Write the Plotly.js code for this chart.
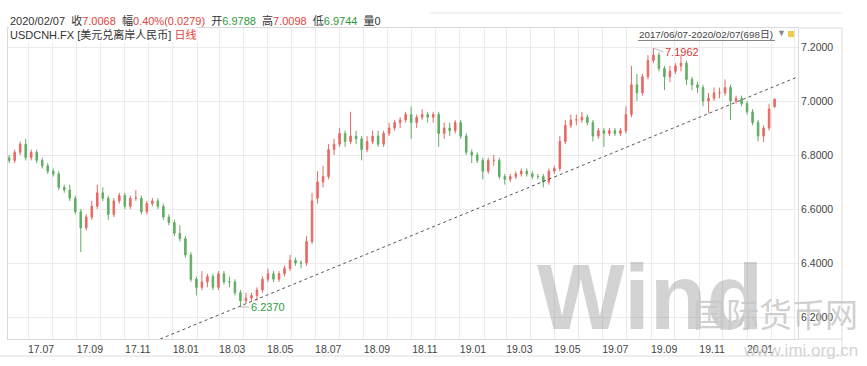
<!DOCTYPE html>
<html>
<head>
<meta charset="utf-8">
<script src="https://cdn.plot.ly/plotly-3.0.1.min.js"></script>
<style>html,body{margin:0;padding:0;background:#fff;}#chart{width:867px;height:366px;}</style>
</head>
<body>
<div id="chart"></div>
<script>
// Weekly OHLC (2017/06/07 - 2020/02/07)
const firstWeek = '2017-06-07';
const open = [
6.79,6.78,6.81,6.84,6.79,6.81,6.78,6.76,6.74,6.73,
6.68,6.67,6.64,6.59,6.53,6.57,6.61,6.66,6.64,6.58,
6.63,6.65,6.61,6.64,6.64,6.59,6.62,6.63,6.61,6.57,
6.55,6.51,6.49,6.43,6.34,6.31,6.33,6.35,6.31,6.36,
6.33,6.33,6.29,6.26,6.27,6.28,6.30,6.34,6.36,6.34,
6.36,6.38,6.41,6.40,6.40,6.48,6.64,6.70,6.72,6.82,
6.84,6.88,6.85,6.87,6.86,6.82,6.85,6.87,6.84,6.88,
6.90,6.92,6.93,6.95,6.92,6.94,6.95,6.94,6.95,6.88,
6.90,6.89,6.92,6.87,6.81,6.80,6.78,6.74,6.78,6.78,
6.72,6.71,6.72,6.73,6.74,6.73,6.72,6.72,6.70,6.74,
6.75,6.85,6.91,6.93,6.93,6.94,6.92,6.87,6.89,6.88,
6.89,6.88,6.89,6.95,7.06,7.03,7.09,7.15,7.17,7.12,
7.09,7.11,7.13,7.14,7.08,7.06,7.05,7.00,7.01,7.03,
7.03,7.05,7.00,7.01,6.99,6.96,6.92,6.87,6.90,6.9788];
const high = [
6.80,6.82,6.85,6.86,6.82,6.82,6.79,6.77,6.75,6.74,
6.69,6.69,6.65,6.60,6.58,6.63,6.69,6.68,6.65,6.64,
6.66,6.66,6.65,6.67,6.65,6.63,6.64,6.64,6.62,6.58,
6.56,6.54,6.50,6.44,6.35,6.37,6.36,6.36,6.37,6.37,
6.35,6.34,6.30,6.29,6.29,6.31,6.35,6.38,6.37,6.37,
6.39,6.43,6.42,6.41,6.50,6.66,6.74,6.76,6.84,6.86,
6.90,6.89,6.96,6.89,6.87,6.87,6.89,6.89,6.89,6.92,
6.93,6.94,6.96,6.98,6.95,6.97,6.96,6.96,6.96,6.92,
6.92,6.93,6.93,6.88,6.82,6.81,6.79,6.79,6.80,6.79,
6.73,6.73,6.74,6.75,6.75,6.74,6.73,6.73,6.75,6.76,
6.87,6.93,6.95,6.95,6.96,6.95,6.93,6.90,6.90,6.90,
6.90,6.90,6.98,7.13,7.10,7.10,7.17,7.1962,7.18,7.13,
7.13,7.14,7.17,7.15,7.09,7.07,7.06,7.03,7.05,7.05,
7.08,7.06,7.02,7.02,7.00,6.97,6.93,6.91,6.99,7.0098];
const low = [
6.77,6.77,6.80,6.78,6.78,6.77,6.75,6.73,6.72,6.67,
6.66,6.63,6.58,6.44,6.52,6.56,6.60,6.63,6.56,6.57,
6.62,6.60,6.60,6.63,6.58,6.58,6.61,6.60,6.56,6.54,
6.50,6.48,6.42,6.33,6.28,6.30,6.31,6.30,6.30,6.32,
6.31,6.28,6.237,6.25,6.26,6.26,6.29,6.33,6.33,6.33,
6.35,6.37,6.39,6.38,6.39,6.47,6.62,6.68,6.71,6.80,
6.83,6.83,6.84,6.84,6.78,6.81,6.84,6.83,6.83,6.87,
6.89,6.90,6.92,6.86,6.90,6.93,6.92,6.92,6.83,6.86,
6.87,6.88,6.86,6.80,6.77,6.77,6.71,6.73,6.76,6.71,
6.69,6.70,6.71,6.72,6.72,6.71,6.71,6.68,6.69,6.73,
6.74,6.84,6.90,6.91,6.92,6.91,6.85,6.86,6.83,6.87,
6.87,6.87,6.88,6.94,7.00,7.02,7.08,7.14,7.11,7.04,
7.07,7.10,7.11,7.06,7.04,7.03,6.98,6.955,7.00,7.01,
7.02,6.93,6.99,6.98,6.95,6.91,6.85,6.848,6.89,6.9744];
const close = [
6.78,6.81,6.84,6.79,6.81,6.78,6.76,6.74,6.73,6.68,
6.67,6.64,6.59,6.53,6.57,6.61,6.66,6.64,6.58,6.63,
6.65,6.61,6.64,6.64,6.59,6.62,6.63,6.61,6.57,6.55,
6.51,6.49,6.43,6.34,6.31,6.33,6.35,6.31,6.36,6.33,
6.33,6.29,6.26,6.27,6.28,6.30,6.34,6.36,6.34,6.36,
6.38,6.41,6.40,6.40,6.48,6.63,6.70,6.72,6.82,6.84,
6.88,6.85,6.87,6.86,6.82,6.85,6.87,6.84,6.88,6.90,
6.92,6.93,6.95,6.92,6.94,6.95,6.94,6.95,6.88,6.90,
6.89,6.92,6.87,6.81,6.80,6.78,6.74,6.78,6.78,6.72,
6.71,6.72,6.73,6.74,6.73,6.72,6.72,6.70,6.74,6.75,
6.85,6.91,6.93,6.93,6.94,6.92,6.87,6.89,6.88,6.89,
6.88,6.89,6.95,7.06,7.03,7.09,7.15,7.17,7.12,7.09,
7.11,7.13,7.14,7.08,7.06,7.05,7.00,7.01,7.03,7.03,
7.05,7.00,7.01,6.99,6.96,6.92,6.87,6.90,6.97,7.0068];
const yTicks = [6.2, 6.4, 6.6, 6.8, 7.0, 7.2];
const xTickDates = ['2017-07-01','2017-09-01','2017-11-01','2018-01-01','2018-03-01','2018-05-01',
  '2018-07-01','2018-09-01','2018-11-01','2019-01-01','2019-03-01','2019-05-01','2019-07-01',
  '2019-09-01','2019-11-01','2020-01-01'];
const trendStart = ['2017-12-16', 6.1185];
const trendEnd = ['2020-03-05', 7.089];

// weekly positions
const dates = [];
const d0 = new Date(firstWeek + 'T00:00:00Z');
for (let i = 0; i < close.length; i++) {
  const d = new Date(d0.getTime() + i * 7 * 86400000);
  dates.push(d.toISOString().slice(0, 10));
}

const RED = '#e2433b', GREEN = '#2f9a3c';
const UPC = '#e66a64', DNC = '#62ad64';
const FONT = 'Liberation Sans, Arial, Noto Sans CJK SC, sans-serif';

// pixel -> paper helpers for the plot box (l=8, r=798, t=28, b=339)
const PL = 8, PR = 798, PT = 28, PB = 339;
const xp = px => (px - PL) / (PR - PL);
const yp = py => (PB - py) / (PB - PT);

let iMax = 0, iMin = 0;
for (let i = 0; i < high.length; i++) {
  if (high[i] > high[iMax]) iMax = i;
  if (low[i] < low[iMin]) iMin = i;
}

const trace = {
  type: 'candlestick', x: dates, open: open, high: high, low: low, close: close,
  increasing: {line: {color: UPC, width: 1}, fillcolor: UPC},
  decreasing: {line: {color: DNC, width: 1}, fillcolor: DNC},
  whiskerwidth: 0, hoverinfo: 'skip', showlegend: false
};

const sp = '\u00A0';
const header1 = '2020/02/07' + sp + sp + '收<span style="color:' + RED + '">7.0068</span>' + sp + sp +
  '幅<span style="color:' + RED + '">0.40%(0.0279)</span>' + sp + sp +
  '开<span style="color:' + GREEN + '">6.9788</span>' + sp + sp +
  '高<span style="color:' + RED + '">7.0098</span>' + sp + sp +
  '低<span style="color:' + GREEN + '">6.9744</span>' + sp + sp + '量0';
const header2 = 'USDCNH.FX [美元兑离岸人民币] <span style="color:' + RED + '">日线</span>';

const layout = {
  width: 867, height: 366,
  margin: {l: PL, r: 867 - PR, t: PT, b: 366 - PB, pad: 0},
  paper_bgcolor: '#ffffff', plot_bgcolor: '#ffffff',
  boxgap: 0.6, boxgroupgap: 0.3,
  font: {family: FONT, size: 11, color: '#333'},
  xaxis: {
    type: 'date', range: ['2017-06-05 12:00', '2020-03-05 18:00'],
    tickmode: 'array', tickvals: xTickDates, tickformat: '%y.%m', ticks: '',
    ticklabelshift: 13,
    tickfont: {family: FONT, size: 10.5, color: '#444'},
    showgrid: true, gridcolor: '#ebebeb', gridwidth: 1,
    minor: {dtick: 'M1', tick0: '2017-07-01', showgrid: true, gridcolor: '#ebebeb', gridwidth: 1},
    showline: true, mirror: true, linecolor: '#d9d9d9', linewidth: 1,
    zeroline: false, rangeslider: {visible: false}, fixedrange: true
  },
  yaxis: {
    side: 'right', range: [6.1185, 7.2704], tickvals: yTicks, tickformat: '.4f',
    ticks: '', tickfont: {family: FONT, size: 10.5, color: '#444'},
    showgrid: true, gridcolor: '#ebebeb', gridwidth: 1,
    showline: true, mirror: true, linecolor: '#d9d9d9', linewidth: 1,
    zeroline: false, fixedrange: true
  },
  shapes: [
    {type: 'line', xref: 'x', yref: 'y', x0: trendStart[0], y0: trendStart[1], x1: trendEnd[0], y1: trendEnd[1],
     line: {color: '#555', width: 1, dash: 'dot'}},
    {type: 'line', xref: 'paper', yref: 'paper', x0: xp(638), x1: xp(775), y0: yp(40.5), y1: yp(40.5), line: {color: '#666', width: 0.8}},
    {type: 'line', xref: 'paper', yref: 'paper', x0: xp(842), x1: xp(842), y0: yp(28), y1: yp(356), line: {color: '#dcdcdc', width: 1}},
    {type: 'line', xref: 'paper', yref: 'paper', x0: 1, x1: xp(842), y0: 1, y1: 1, line: {color: '#dcdcdc', width: 1}},
    {type: 'line', xref: 'paper', yref: 'paper', x0: 1, x1: xp(842), y0: 0, y1: 0, line: {color: '#dcdcdc', width: 1}},
    {type: 'line', xref: 'paper', yref: 'paper', x0: xp(0), x1: xp(842), y0: yp(356), y1: yp(356), line: {color: '#dcdcdc', width: 1}},
    {type: 'line', xref: 'paper', yref: 'paper', x0: xp(430), x1: xp(842), y0: yp(13), y1: yp(13), line: {color: '#e6e6e6', width: 1}},
    {type: 'rect', xref: 'paper', yref: 'paper', x0: xp(788), x1: xp(794), y0: yp(37), y1: yp(31), line: {width: 0}, fillcolor: '#f2c94c'}
  ],
  annotations: [
    {xref: 'paper', yref: 'paper', x: xp(8), y: yp(20), xanchor: 'left', yanchor: 'middle', showarrow: false,
     text: header1, font: {family: FONT, size: 11, color: '#333'}},
    {xref: 'paper', yref: 'paper', x: xp(8), y: yp(34), xanchor: 'left', yanchor: 'middle', showarrow: false,
     text: header2, font: {family: FONT, size: 11, color: '#333'}, bgcolor: 'rgba(255,255,255,0.9)'},
    {xref: 'paper', yref: 'paper', x: xp(637), y: yp(34), xanchor: 'left', yanchor: 'middle', showarrow: false,
     text: '2017/06/07-2020/02/07(698日)', font: {family: FONT, size: 9.8, color: '#444'}},
    {xref: 'paper', yref: 'paper', x: xp(781), y: yp(33), xanchor: 'center', yanchor: 'middle', showarrow: false,
     text: '▼', font: {family: FONT, size: 9, color: '#888'}},
    {xref: 'x', yref: 'y', x: dates[iMax], y: high[iMax], text: high[iMax].toFixed(4),
     showarrow: true, arrowhead: 0, arrowwidth: 0.8, arrowcolor: '#aaa', ax: 10, ay: 4, standoff: 0,
     xanchor: 'left', yanchor: 'middle', font: {family: FONT, size: 11, color: '#d23a3a'}},
    {xref: 'x', yref: 'y', x: dates[iMin], y: low[iMin], text: low[iMin].toFixed(4),
     showarrow: true, arrowhead: 0, arrowwidth: 0.8, arrowcolor: '#aaa', ax: 9, ay: 0, standoff: 0,
     xanchor: 'left', yanchor: 'middle', font: {family: FONT, size: 11, color: GREEN}},
    {xref: 'paper', yref: 'paper', x: xp(650), y: yp(297), xanchor: 'center', yanchor: 'middle', showarrow: false,
     text: '<b>Wind</b>', font: {family: 'Liberation Sans, Arial', size: 93, color: 'rgba(120,120,120,0.33)'}},
    {xref: 'paper', yref: 'paper', x: xp(775), y: yp(313), xanchor: 'center', yanchor: 'middle', showarrow: false,
     text: '国际货币网', font: {family: 'Noto Sans CJK SC', size: 33, color: 'rgba(200,200,200,0.85)'}},
    {xref: 'paper', yref: 'paper', x: xp(800), y: yp(350), xanchor: 'center', yanchor: 'middle', showarrow: false,
     text: 'www.imi.org.cn', font: {family: 'Liberation Sans, Arial', size: 17, color: 'rgba(200,200,200,0.8)'}}
  ]
};

Plotly.newPlot('chart', [trace], layout, {displayModeBar: false, staticPlot: true});
</script>
</body>
</html>
